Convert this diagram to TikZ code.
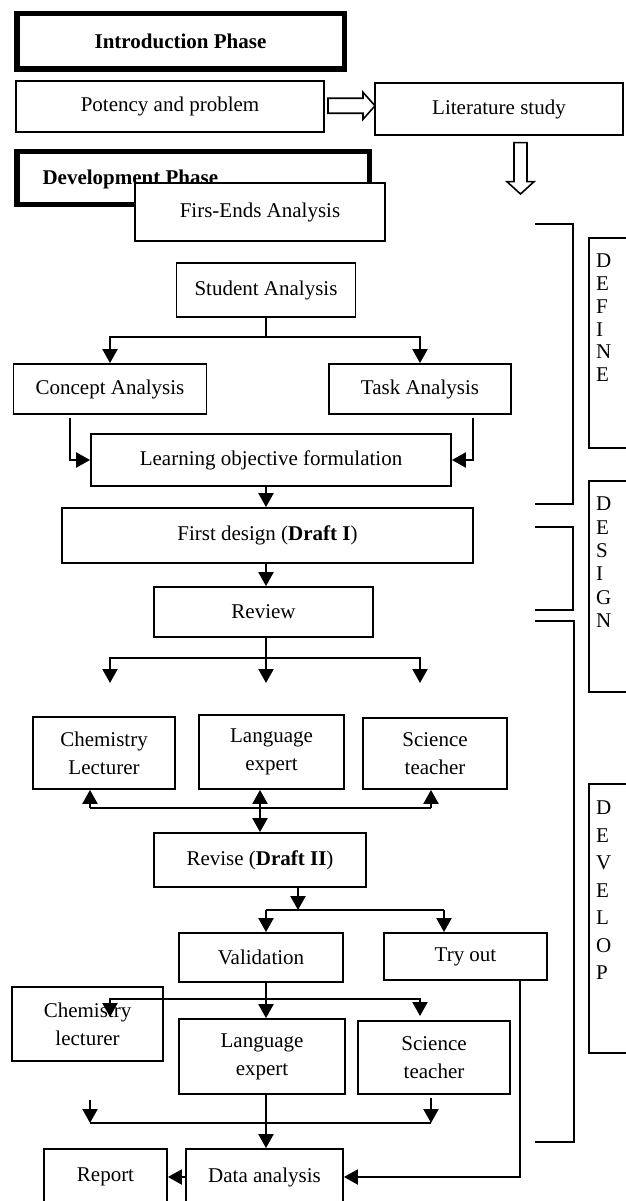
\documentclass[tikz,border=0pt]{standalone}
\usepackage{fontspec}
\setmainfont{Liberation Serif}
\usepackage{graphicx,xcolor}
\usepackage{tikz}
\usetikzlibrary{arrows.meta,calc}

\begin{document}
\begin{tikzpicture}[x = 1pt, y = -1pt]
	\tikzstyle{every node} = [font = \fontsize{21}{28}\selectfont]
	\tikzstyle{box} = [draw = black, line width = 1.8pt, fill = white, align = center, inner sep = 0pt]
	\tikzstyle{phase} = [draw = black, line width = 5.5pt, inner sep = 0pt]
	\tikzstyle{letters} = [anchor = north west, align = left, inner sep = 0pt]
	\tikzstyle{arr} = [line width = 2.2pt, -{Triangle[length = 14pt, width = 15pt]}]
	\tikzstyle{arrs} = [line width = 2.2pt, {Triangle[length = 14pt, width = 15pt]}-{Triangle[length = 14pt, width = 15pt]}]
	\tikzstyle{link} = [line width = 2.2pt]
	\tikzstyle{hollow} = [draw = black, line width = 1.6pt, line join = miter]
	\tikzstyle{bracket} = [line width = 2pt]
\useasboundingbox (0, 0) rectangle (625, 1201);
\node[phase, minimum width = 327.5pt, minimum height = 55.5pt] (1) at (180.5, 41.5) {\textbf{Introduction Phase}};
\node[box, minimum width = 308pt, minimum height = 51pt] (2) at (170, 106.5) {Potency and problem};
\node[box, minimum width = 248pt, minimum height = 52pt] (3) at (499, 109) {Literature study};
\node[phase, minimum width = 352.5pt, minimum height = 52.5pt] (4) at (193, 178) {};
\node[anchor = base west] (5) at (39, 185) {\textbf{Development Phase}};
\node[box, minimum width = 250pt, minimum height = 58pt] (6) at (260, 212) {Firs-Ends Analysis};
\node[box, minimum width = 179pt, minimum height = 54pt] (7) at (266, 290) {Student Analysis};
\node[box, minimum width = 193pt, minimum height = 50pt] (8) at (110, 389) {Concept Analysis};
\node[box, minimum width = 182pt, minimum height = 50pt] (9) at (420, 389) {Task Analysis};
\node[box, minimum width = 360pt, minimum height = 52pt] (10) at (271, 460) {Learning objective formulation};
\node[box, minimum width = 411pt, minimum height = 55pt] (11) at (267.5, 535.5) {First design (\textbf{Draft I})};
\node[box, minimum width = 219pt, minimum height = 50pt] (12) at (263.5, 612) {Review};
\node[box, minimum width = 142pt, minimum height = 72pt] (13) at (104, 753) {Chemistry\\Lecturer};
\node[box, minimum width = 145pt, minimum height = 74pt] (14) at (271.5, 752) {Language\\expert};
\node[box, minimum width = 144pt, minimum height = 71pt] (15) at (435, 753.5) {Science\\teacher};
\node[box, minimum width = 212pt, minimum height = 54pt] (16) at (260, 860) {Revise (\textbf{Draft II})};
\node[box, minimum width = 164pt, minimum height = 49pt] (17) at (261, 957.5) {Validation};
\node[box, minimum width = 163pt, minimum height = 47pt] (18) at (465.5, 956.5) {Try out};
\node[box, minimum width = 151pt, minimum height = 74pt] (19) at (87.5, 1024) {Chemistry\\lecturer};
\node[box, minimum width = 166pt, minimum height = 75pt] (20) at (262, 1056.5) {Language\\expert};
\node[box, minimum width = 152pt, minimum height = 73pt] (21) at (434, 1057.5) {Science\\teacher};
\node[box, minimum width = 157pt, minimum height = 56pt] (22) at (264.5, 1177) {Data analysis};
\node[box, minimum width = 123pt, minimum height = 56pt] (23) at (105.5, 1177) {Report};
\node[box, anchor = north west, minimum width = 52pt, minimum height = 210pt] (24) at (588, 237) {};
\node[letters, font = \fontsize{21}{22.7}\selectfont] (25) at (596, 254) {D\\E\\F\\I\\N\\E};
\node[box, anchor = north west, minimum width = 52pt, minimum height = 211pt] (26) at (588, 480) {};
\node[letters, font = \fontsize{21}{23.3}\selectfont] (27) at (596, 497) {D\\E\\S\\I\\G\\N};
\node[box, anchor = north west, minimum width = 52pt, minimum height = 269pt] (28) at (588, 783) {};
\node[letters, font = \fontsize{21}{27.5}\selectfont] (29) at (596, 801) {D\\E\\V\\E\\L\\O\\P};
\path[hollow] (328, 98.3) -- (363, 98.3) -- (363, 92.3) -- (375, 105.8) -- (363, 119.3) -- (363, 113.3) -- (328, 113.3) -- cycle;
\path[hollow] (514, 142.7) -- (527, 142.7) -- (527, 181.7) -- (534, 181.7) -- (520.5, 194) -- (507, 181.7) -- (514, 181.7) -- cycle;
\path[draw, bracket] (535, 224) -| (573, 504) -- (535, 504);
\path[draw, bracket] (535, 527) -| (573, 610) -- (535, 610);
\path[draw, bracket] (535, 621) -| (574, 1142) -- (535, 1142);
\coordinate (7a) at (266, 337);
\path[draw, link] (7.south) -- (7a);
\path[draw, arr] (7a) -| (8.north);
\path[draw, arr] (7a) -| (9.north);
\path[draw, arr] ([xshift = -40pt, yshift = -3pt]8.south) |- (10.west);
\path[draw, arr] ([xshift = 53pt, yshift = -3pt]9.south) |- (10.east);
\path[draw, arr] (10.south -| 7a) -- (11.north -| 7a);
\path[draw, arr] (11.south -| 7a) -- (12.north -| 7a);
\coordinate (12j) at (266, 658);
\coordinate (12a) at (110, 683);
\coordinate (12b) at (266, 683);
\coordinate (12c) at (420, 683);
\path[draw, arr] (12.south -| 12j) -- (12b);
\path[draw, arr] (12j) -| (12a);
\path[draw, arr] (12j) -| (12c);
\coordinate (13a) at (90, 808);
\coordinate (15a) at (431, 808);
\path[draw, link] (13a) -- (15a);
\path[draw, arr] (13a) -- (13a |- 13.south);
\path[draw, arr] (15a) -- (15a |- 15.south);
\path[draw, arrs] (14.south -| 16.north) -- (16.north);
\coordinate (16j) at (298, 910);
\coordinate (17a) at (266, 910);
\coordinate (18a) at (444, 910);
\path[draw, arr] (16.south -| 16j) -- (16j);
\path[draw, link] (17a) -- (18a);
\path[draw, arr] (17a) -- (17a |- 17.north);
\path[draw, arr] (18a) -- (18a |- 18.north);
\coordinate (17j) at (266, 999);
\coordinate (19a) at (110, 1017);
\coordinate (21a) at (420, 1016);
\path[draw, arr] (17.south -| 17j) -- (20.north -| 17j);
\path[draw, arr] (17j) -| (19a);
\path[draw, arr] (17j) -| (21a);
\coordinate (19b) at (90, 1100);
\coordinate (21b) at (431, 1098);
\coordinate (22a) at (90, 1123);
\coordinate (22b) at (431, 1123);
\path[draw, arr] (19b) -- (22a);
\path[draw, arr] (21b) -- (22b);
\path[draw, link] (22a) -- (22b);
\path[draw, arr] (20.south -| 17j) -- (22.north -| 17j);
\path[draw, arr] (18.south -| 520, 0) |- (22.east);
\path[draw, arr] (22.west) -- (23.east);
\end{tikzpicture}
\end{document}
